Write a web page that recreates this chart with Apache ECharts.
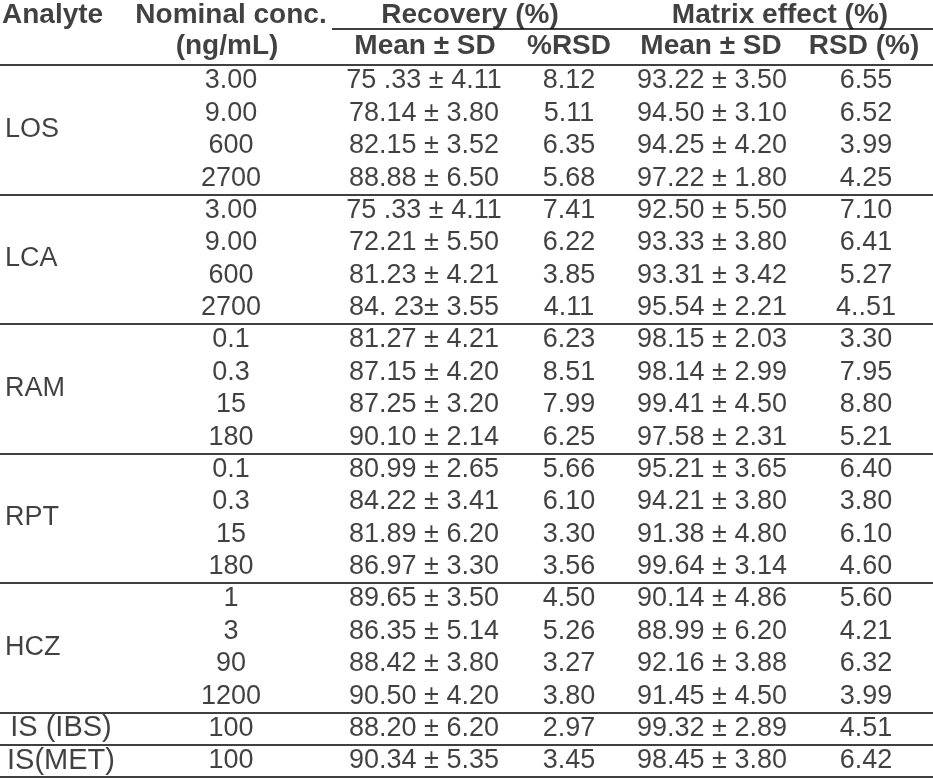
<!DOCTYPE html>
<html>
<head>
<meta charset="utf-8">
<script src="https://cdn.jsdelivr.net/npm/echarts@6/dist/echarts.min.js"></script>
<style>
html, body { margin: 0; padding: 0; background: #fff; }
#chart { width: 933px; height: 778px; }
</style>
</head>
<body>
<div id="chart"></div>
<script>
// table content
var analytes = ['LOS', 'LCA', 'RAM', 'RPT', 'HCZ', 'IS (IBS)', 'IS(MET)'];
var analyteRows = [4, 4, 4, 4, 4, 1, 1];
var concs = ['3.00', '9.00', '600', '2700', '3.00', '9.00', '600', '2700',
    '0.1', '0.3', '15', '180', '0.1', '0.3', '15', '180',
    '1', '3', '90', '1200', '100', '100'];
var recMeanSD = ['75 .33 ± 4.11', '78.14 ± 3.80', '82.15 ± 3.52', '88.88 ± 6.50',
    '75 .33 ± 4.11', '72.21 ± 5.50', '81.23 ± 4.21', '84. 23± 3.55',
    '81.27 ± 4.21', '87.15 ± 4.20', '87.25 ± 3.20', '90.10 ± 2.14',
    '80.99 ± 2.65', '84.22 ± 3.41', '81.89 ± 6.20', '86.97 ± 3.30',
    '89.65 ± 3.50', '86.35 ± 5.14', '88.42 ± 3.80', '90.50 ± 4.20',
    '88.20 ± 6.20', '90.34 ± 5.35'];
var recRSD = ['8.12', '5.11', '6.35', '5.68', '7.41', '6.22', '3.85', '4.11',
    '6.23', '8.51', '7.99', '6.25', '5.66', '6.10', '3.30', '3.56',
    '4.50', '5.26', '3.27', '3.80', '2.97', '3.45'];
var meMeanSD = ['93.22 ± 3.50', '94.50 ± 3.10', '94.25 ± 4.20', '97.22 ± 1.80',
    '92.50 ± 5.50', '93.33 ± 3.80', '93.31 ± 3.42', '95.54 ± 2.21',
    '98.15 ± 2.03', '98.14 ± 2.99', '99.41 ± 4.50', '97.58 ± 2.31',
    '95.21 ± 3.65', '94.21 ± 3.80', '91.38 ± 4.80', '99.64 ± 3.14',
    '90.14 ± 4.86', '88.99 ± 6.20', '92.16 ± 3.88', '91.45 ± 4.50',
    '99.32 ± 2.89', '98.45 ± 3.80'];
var meRSD = ['6.55', '6.52', '3.99', '4.25', '7.10', '6.41', '5.27', '4..51',
    '3.30', '7.95', '8.80', '5.21', '6.40', '3.80', '6.10', '4.60',
    '5.60', '4.21', '6.32', '3.99', '4.51', '6.42'];
var header1 = ['Analyte', 'Nominal conc.', 'Recovery (%)', 'Matrix effect (%)'];
var header2 = ['(ng/mL)', 'Mean ± SD', '%RSD', 'Mean ± SD', 'RSD (%)'];

// layout (x positions on a 0..933 axis, rows on a 0..24 axis)
var FONT = '"Liberation Sans", Arial, sans-serif';
var head1X = [2, 231, 470, 780];
var head2X = [227, 425, 569, 711, 864];
var colX = [231, 424, 569, 712, 866];
var firstRow = 2;

function cell(x, row, text, bold, align, size) {
    return {
        value: [x, row],
        label: {
            show: true,
            formatter: text,
            align: align || 'center',
            verticalAlign: 'middle',
            fontSize: size || 27,
            fontWeight: bold ? 'bold' : 'normal'
        }
    };
}

var cells = [];
header1.forEach(function (t, i) {
    cells.push(cell(head1X[i], 0.47, t, true, i === 0 ? 'left' : 'center', 28));
});
header2.forEach(function (t, i) {
    cells.push(cell(head2X[i], 1.43, t, true, 'center', 28));
});
var cols = [concs, recMeanSD, recRSD, meMeanSD, meRSD];
concs.forEach(function (c, r) {
    cols.forEach(function (arr, j) {
        cells.push(cell(colX[j], firstRow + r + 0.5, arr[r], false));
    });
});
var start = firstRow;
var breaks = [firstRow];
analytes.forEach(function (a, i) {
    var mid = start + analyteRows[i] / 2;
    if (analyteRows[i] > 1) {
        cells.push(cell(5, mid, a, false, 'left'));
    } else {
        cells.push(cell(61, mid, a, false, 'center', 29));
    }
    start += analyteRows[i];
    breaks.push(start);
});

var chart = echarts.init(document.getElementById('chart'));
chart.setOption({
    backgroundColor: '#fff',
    animation: false,
    textStyle: { fontFamily: FONT },
    grid: { left: 0, right: 0, top: -3, bottom: 1 },
    xAxis: { type: 'value', min: 0, max: 933, show: false },
    yAxis: { type: 'value', min: 0, max: 24, inverse: true, show: false },
    series: [{
        type: 'scatter',
        symbolSize: 0,
        silent: true,
        label: { color: '#111', fontFamily: FONT },
        data: cells,
        markLine: {
            silent: true,
            symbol: 'none',
            label: { show: false },
            lineStyle: { color: '#000', width: 1.5, type: 'solid' },
            data: breaks.map(function (b) { return { yAxis: b }; }).concat([
                [{ coord: [332, 0.88] }, { coord: [933, 0.88] }]
            ])
        }
    }]
});
</script>
</body>
</html>
